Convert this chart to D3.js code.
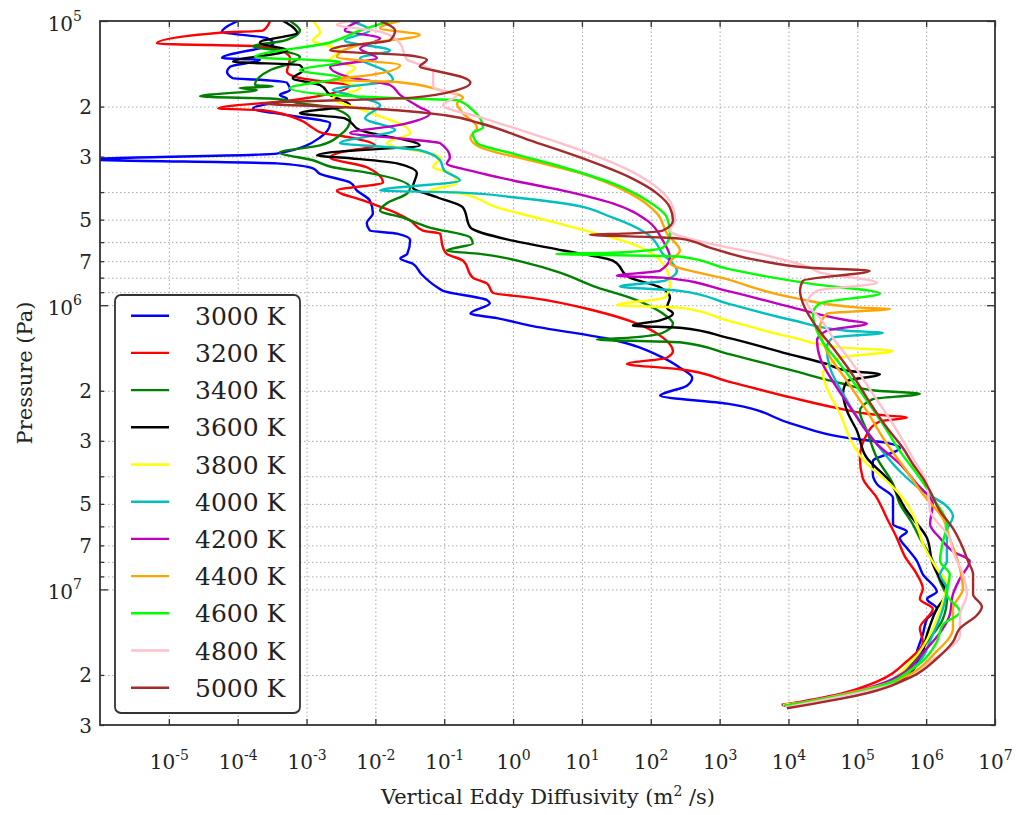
<!DOCTYPE html>
<html><head><meta charset="utf-8">
<script src="https://cdn.jsdelivr.net/npm/d3@7"></script>
<style>body{margin:0;background:#fff;} svg{display:block;}</style>
</head><body>
<svg id="chart" width="1016" height="815"></svg>
<script>
// ---------- DATA: [pressure (Pa), Kzz (m^2/s)] ----------
const temps = [3000, 3200, 3400, 3600, 3800, 4000, 4200, 4400, 4600, 4800, 5000];
const colors = ["#0000ff","#ff0000","#008000","#000000","#ffff00","#00bfbf","#bf00bf","#ffa500","#00ff00","#ffc0cb","#a52a2a"];

const s3000 = [[1.0e5,1.0e-4],[1.06e5,6.5e-5],[1.09e5,5.9e-5],[1.15e5,2.7e-4],[1.2e5,3.3e-4],[1.35e5,5.9e-5],[1.37e5,2.1e-4],[1.45e5,7.7e-5],[1.51e5,7.0e-5],[1.59e5,8.5e-5],[1.61e5,2.1e-4],[1.65e5,5.2e-4],[1.75e5,5.75e-4],[1.82e5,4.1e-4],[1.88e5,5.2e-4],[2.03e5,1.67e-4],[2.15e5,5.75e-4],[2.29e5,2.2e-3],[2.57e5,1.57e-3],[2.93e5,3.7e-4],[3.07e5,7e-7],[3.17e5,3.7e-4],[3.3e5,1.24e-3],[3.45e5,1.57e-3],[3.7e5,4.3e-3],[3.95e5,5.4e-3],[4.28e5,8.3e-3],[4.75e5,9.2e-3],[5.15e5,7.5e-3],[5.46e5,8.3e-3],[5.6e5,2.06e-2],[5.9e5,3.2e-2],[6.6e5,2.9e-2],[6.85e5,2.3e-2],[7.15e5,3.5e-2],[7.75e5,4.6e-2],[8.65e5,7.9e-2],[8.9e5,9.6e-2],[9.6e5,4.2e-1],[9.85e5,4.6e-1],[1.07e6,2.4e-1],[1.11e6,5.8e-1],[1.18e6,1.76],[1.31e6,2.31e1],[1.53e6,1.5e2],[1.66e6,2.65e2],[1.8e6,4.0e2],[1.92e6,3.35e2],[2.05e6,1.5e2],[2.08e6,1.36e2],[2.22e6,1.28e3],[2.62e6,1.16e4],[2.93e6,7.1e4],[3.05e6,2.7e5],[3.18e6,4.15e5],[3.54e6,1.68e5],[3.93e6,1.68e5],[4.26e6,1.93e5],[4.77e6,3.3e5],[5.9e6,3.3e5],[6.25e6,5.25e5],[6.6e6,4.15e5],[7.15e6,5.25e5],[7.95e6,7.35e5],[8.85e6,8.95e5],[1.02e7,1.43e6],[1.08e7,1.03e6],[1.17e7,1.43e6],[1.27e7,1.03e6],[1.44e7,8.95e5],[1.61e7,7.6e5],[1.84e7,6.4e5],[2.14e7,3.3e5],[2.33e7,1.09e5],[2.55e7,8.0e3]];

const s3200 = [[1.0e5,2.95e-4],[1.08e5,2.33e-4],[1.10e5,5.5e-5],[1.2e5,6.7e-6],[1.23e5,2.66e-4],[1.35e5,5.75e-4],[1.51e5,5.2e-4],[1.58e5,7.3e-4],[1.65e5,2.4e-3],[1.68e5,4.3e-3],[1.9e5,6.3e-4],[2.03e5,5.2e-5],[2.06e5,2.33e-4],[2.23e5,8.0e-4],[2.38e5,1.24e-3],[2.48e5,1.73e-3],[2.57e5,4.3e-3],[2.74e5,9.8e-3],[2.9e5,3.06e-3],[3.02e5,2.2e-3],[3.27e5,7.5e-3],[3.7e5,1.29e-2],[3.95e5,2.77e-3],[4.28e5,6.6e-3],[4.75e5,2.06e-2],[5.03e5,3.2e-2],[5.46e5,4.9e-2],[5.6e5,8.7e-2],[6.27e5,9.6e-2],[6.6e5,1.09e-1],[6.97e5,1.87e-1],[8.0e5,2.6e-1],[8.4e5,4.2e-1],[9.05e5,5.1e-1],[9.4e5,1.76],[1.05e6,1.65e1],[1.16e6,6.3e1],[1.3e6,1.5e2],[1.45e6,2.1e2],[1.53e6,1.72e2],[1.61e6,4.5e1],[1.68e6,2.65e2],[1.85e6,1.28e3],[2.12e6,1.16e4],[2.3e6,5.05e4],[2.41e6,1.38e5],[2.49e6,5.25e5],[2.56e6,2.13e5],[2.84e6,1.38e5],[3.45e6,1.09e5],[4.06e6,1.2e5],[4.77e6,1.93e5],[5.63e6,2.7e5],[6.6e6,3.76e5],[7.65e6,4.9e5],[8.85e6,7.35e5],[9.95e6,8.95e5],[1.08e7,8.1e5],[1.17e7,1.25e6],[1.37e7,8.1e5],[1.53e7,8.95e5],[1.79e7,5.25e5],[2.11e7,1.93e5],[2.33e7,5.6e4],[2.55e7,8.0e3]];

const s3400 = [[1.0e5,5.75e-4],[1.08e5,8.0e-4],[1.17e5,4.9e-4],[1.23e5,1.67e-4],[1.27e5,4.1e-4],[1.34e5,8.0e-4],[1.41e5,5.75e-4],[1.49e5,2.95e-4],[1.68e5,1.78e-4],[1.7e5,3.25e-4],[1.72e5,1.08e-4],[1.75e5,1.9e-4],[1.84e5,2.83e-5],[1.88e5,3.7e-4],[1.95e5,8.0e-4],[2.01e5,2.2e-3],[2.23e5,4.3e-3],[2.52e5,3.06e-3],[2.74e5,1.57e-3],[2.9e5,4.1e-4],[3.09e5,1.24e-3],[3.27e5,2.4e-3],[3.43e5,8.3e-3],[3.85e5,3.2e-2],[4.04e5,2.9e-2],[4.38e5,1.47e-2],[4.64e5,1.17e-2],[4.92e5,2.5e-2],[5.33e5,6.2e-2],[5.78e5,2.4e-1],[6.07e5,2.6e-1],[6.42e5,1.09e-1],[6.6e5,3.3e-1],[7.15e5,1.76],[7.68e5,4.8],[8.65e5,1.65e1],[9.4e5,4.98e1],[1.07e6,1.5e2],[1.16e6,2.1e2],[1.25e6,1.5e2],[1.3e6,4.98e1],[1.32e6,1.65e1],[1.35e6,2.65e2],[1.48e6,1.28e3],[1.7e6,1.16e4],[1.89e6,6.2e4],[2.0e6,1.93e5],[2.05e6,8.1e5],[2.14e6,1.68e5],[2.36e6,1.09e5],[2.77e6,1.38e5],[3.45e6,1.93e5],[4.26e6,3.3e5],[5.0e6,4.15e5],[5.9e6,6.4e5],[6.6e6,8.1e5],[7.95e6,1.25e6],[9.37e6,1.59e6],[1.08e7,2.0e6],[1.27e7,1.75e6],[1.53e7,1.03e6],[1.95e7,4.6e5],[2.33e7,1.09e5],[2.55e7,8.3e3]];

const s3600 = [[1.0e5,4.55e-4],[1.05e5,6.3e-4],[1.1e5,7.3e-4],[1.19e5,2.1e-4],[1.27e5,5.2e-4],[1.39e5,8.55e-5],[1.43e5,8.0e-4],[1.49e5,8.9e-4],[1.59e5,6.3e-4],[1.68e5,1.57e-3],[1.82e5,2.2e-3],[1.98e5,4.3e-3],[2.11e5,8.0e-4],[2.2e5,3.6e-3],[2.42e5,6.0e-3],[2.74e5,4.4e-2],[2.9e5,2.2e-3],[2.97e5,1.42e-3],[3.04e5,4.3e-3],[3.17e5,2.06e-2],[3.43e5,4.0e-2],[3.85e5,3.5e-2],[4.17e5,7.9e-2],[4.53e5,1.87e-1],[5.33e5,2.4e-1],[5.93e5,1.0],[6.42e5,5.3],[6.97e5,2.8e1],[8.0e5,4.98e1],[8.65e5,1.36e2],[9.4e5,1.9e2],[1.02e6,1.72e2],[1.07e6,2.1e2],[1.13e6,1.36e2],[1.18e6,5.5e1],[1.2e6,2.65e2],[1.3e6,1.28e3],[1.48e6,9.5e3],[1.61e6,3.6e4],[1.7e6,7.1e4],[1.75e6,2.13e5],[1.85e6,7.1e4],[2.05e6,6.2e4],[2.36e6,7.1e4],[2.77e6,9.9e4],[3.45e6,1.38e5],[4.06e6,2.7e5],[5.3e6,5.25e5],[6.6e6,1.03e6],[8.15e6,1.25e6],[9.6e6,1.75e6],[1.02e7,2.0e6],[1.17e7,1.43e6],[1.44e7,1.03e6],[1.75e7,8.1e5],[2.06e7,4.6e5],[2.33e7,1.09e5],[2.57e7,8.5e3]];

const s3800 = [[1.0e5,1.24e-3],[1.1e5,1.57e-3],[1.17e5,1.24e-3],[1.27e5,3.06e-3],[1.37e5,2.2e-3],[1.46e5,5.05e-3],[1.61e5,3.06e-3],[1.72e5,6.0e-3],[1.87e5,2.4e-3],[2.06e5,6.6e-3],[2.38e5,2.9e-2],[2.48e5,3.2e-2],[2.69e5,1.47e-2],[3.02e5,8.7e-2],[3.27e5,6.9e-2],[3.43e5,1.21e-1],[3.73e5,1.53e-1],[3.95e5,6.2e-2],[4.04e5,1.69e-1],[4.53e5,5.8e-1],[5.03e5,3.1],[5.6e5,1.65e1],[5.93e5,3.94e1],[6.42e5,8.8e1],[7.15e5,1.5e2],[8.4e5,1.9e2],[9.4e5,1.61e2],[1.0e6,3.22e1],[1.02e6,2.65e2],[1.13e6,1.28e3],[1.3e6,1.16e4],[1.41e6,6.2e4],[1.45e6,3.3e5],[1.53e6,5.6e4],[1.75e6,3.17e4],[1.95e6,3.6e4],[2.41e6,5.6e4],[3.08e6,8.6e4],[3.62e6,1.38e5],[4.26e6,3.0e5],[5.0e6,5.25e5],[5.9e6,7.35e5],[6.9e6,8.95e5],[8.45e6,1.43e6],[9.6e6,2.0e6],[1.1e7,1.75e6],[1.37e7,1.25e6],[1.77e7,6.4e5],[2.29e7,1.52e5],[2.55e7,8.3e3]];

const s4000 = [[1.0e5,4.3e-3],[1.08e5,8.3e-3],[1.17e5,3.6e-3],[1.27e5,1.63e-2],[1.35e5,6.0e-3],[1.51e5,1.47e-2],[1.61e5,1.8e-2],[1.75e5,2.4e-3],[1.82e5,4.3e-3],[1.98e5,1.17e-2],[2.2e5,7.1e-3],[2.42e5,1.93e-2],[2.69e5,3.06e-3],[2.78e5,1.63e-2],[2.85e5,4.4e-2],[3.09e5,8.7e-2],[3.36e5,1.0e-1],[3.64e5,1.69e-1],[3.95e5,1.17e-2],[4.01e5,1.53e-1],[4.17e5,1.0],[4.38e5,5.3],[4.92e5,2.8e1],[5.6e5,8.8e1],[6.6e5,1.5e2],[7.57e5,2.4e2],[8.2e5,1.61e2],[8.6e5,3.56e1],[8.9e5,2.65e2],[9.85e5,1.28e3],[1.13e6,1.16e4],[1.23e6,7.1e4],[1.25e6,2.35e5],[1.3e6,4.4e4],[1.41e6,3.6e4],[1.66e6,4.0e4],[2.05e6,6.2e4],[2.56e6,1.09e5],[3.18e6,2.13e5],[3.84e6,4.15e5],[4.51e6,8.95e5],[5.1e6,2.0e6],[5.53e6,2.45e6],[6.25e6,2.0e6],[7.95e6,2.0e6],[8.85e6,1.59e6],[9.95e6,2.0e6],[1.17e7,1.75e6],[1.44e7,1.25e6],[1.9e7,6.4e5],[2.29e7,1.52e5],[2.57e7,8.8e3]];

const s4200 = [[1.0e5,6.0e-3],[1.08e5,3.6e-3],[1.15e5,1.17e-2],[1.25e5,6.0e-3],[1.35e5,1.05e-2],[1.45e5,2.2e-3],[1.58e5,4.3e-3],[1.68e5,1.63e-2],[1.82e5,2.28e-2],[2.01e5,4.4e-2],[2.11e5,6.2e-2],[2.33e5,2.06e-2],[2.48e5,4.3e-3],[2.59e5,2.28e-2],[2.69e5,8.7e-2],[3.02e5,1.21e-1],[3.17e5,1.09e-1],[3.36e5,2.4e-1],[3.64e5,1.0],[3.95e5,5.3],[4.38e5,2.8e1],[5.03e5,8.8e1],[5.93e5,1.5e2],[6.8e5,1.9e2],[7.57e5,1.36e2],[7.87e5,3.22e1],[8.0e5,1.5e2],[8.9e5,1.28e3],[1.02e6,1.16e4],[1.13e6,7.1e4],[1.16e6,1.38e5],[1.23e6,3.6e4],[1.33e6,2.6e4],[1.53e6,2.87e4],[1.95e6,5.05e4],[2.36e6,8.6e4],[3.08e6,1.93e5],[3.62e6,4.15e5],[4.26e6,7.35e5],[5.0e6,1.25e6],[5.9e6,1.14e6],[6.6e6,1.59e6],[7.35e6,2.45e6],[7.95e6,4.3e6],[9.15e6,3.1e6],[1.04e7,2.45e6],[1.23e7,2.2e6],[1.61e7,1.03e6],[2.11e7,2.7e5],[2.57e7,8.8e3]];

const s4400 = [[1.0e5,2.28e-2],[1.06e5,1.17e-2],[1.12e5,4.4e-2],[1.21e5,6.0e-3],[1.34e5,2.77e-3],[1.43e5,2.28e-2],[1.55e5,8.3e-3],[1.61e5,2.4e-3],[1.64e5,2.06e-2],[1.75e5,8.7e-2],[1.86e5,1.87e-1],[1.95e5,1.53e-1],[2.11e5,1.87e-1],[2.37e5,3.0e-1],[2.57e5,2.4e-1],[2.78e5,3.3e-1],[3.09e5,1.76],[3.43e5,9.4],[4.04e5,4.98e1],[4.75e5,1.23e2],[5.6e5,1.72e2],[6.42e5,2.65e2],[7.1e5,1.9e2],[8.1e5,1.28e3],[9.4e5,1.16e4],[1.02e6,1.09e5],[1.03e6,3.0e5],[1.07e6,3.6e4],[1.2e6,2.87e4],[1.45e6,3.6e4],[1.85e6,7.1e4],[2.36e6,1.38e5],[3.08e6,2.7e5],[3.84e6,5.25e5],[4.62e6,8.95e5],[5.63e6,1.75e6],[6.6e6,2.2e6],[8.45e6,3.1e6],[9.95e6,3.42e6],[1.17e7,2.45e6],[1.37e7,2.45e6],[1.65e7,1.43e6],[2.11e7,3.3e5],[2.57e7,8.8e3]];

const s4600 = [[1.0e5,1.63e-2],[1.08e5,6.0e-3],[1.19e5,2.2e-3],[1.34e5,1.78e-4],[1.39e5,3.06e-3],[1.49e5,8.0e-4],[1.58e5,3.06e-3],[1.72e5,5.75e-4],[1.82e5,2.2e-3],[1.87e5,2.28e-2],[1.9e5,1.53e-1],[2.06e5,2.6e-1],[2.37e5,3.65e-1],[2.48e5,2.6e-1],[2.69e5,3.0e-1],[2.93e5,1.0],[3.27e5,5.3],[3.73e5,2.8e1],[4.28e5,8.8e1],[4.92e5,1.72e2],[5.6e5,1.9e2],[6.27e5,1.5e2],[6.54e5,2.8e1],[6.6e5,4.2],[6.74e5,2.65e2],[7.44e5,1.28e3],[8.4e5,2.05e4],[9.1e5,2.13e5],[9.85e5,2.87e4],[1.07e6,2.27e4],[1.3e6,2.87e4],[1.61e6,5.6e4],[2.0e6,1.09e5],[2.62e6,2.35e5],[3.26e6,4.15e5],[4.06e6,8.1e5],[4.77e6,1.25e6],[5.9e6,2.0e6],[6.8e6,1.75e6],[7.95e6,1.59e6],[8.85e6,2.2e6],[1.04e7,2.0e6],[1.2e7,3.1e6],[1.33e7,1.75e6],[1.53e7,1.43e6],[1.9e7,6.4e5],[2.23e7,1.68e5],[2.57e7,8.8e3]];

const s4800 = [[1.0e5,4.3e-3],[1.03e5,2.77e-3],[1.09e5,1.17e-2],[1.2e5,2.28e-2],[1.37e5,2.9e-2],[1.41e5,4.0e-2],[1.51e5,6.9e-2],[1.71e5,6.9e-2],[1.82e5,1.53e-1],[1.98e5,9.6e-2],[2.18e5,3.3e-1],[2.48e5,1.76],[2.85e5,9.7],[3.36e5,4.98e1],[3.85e5,1.23e2],[4.53e5,2.1e2],[5.03e5,2.25e2],[5.46e5,1.9e2],[6.07e5,7.2e2],[6.6e5,3.85e3],[7.38e5,2.05e4],[7.68e5,2.87e4],[8.33e5,1.93e5],[8.9e5,2.6e4],[9.85e5,1.86e4],[1.11e6,2.87e4],[1.3e6,4.4e4],[1.61e6,8.6e4],[2.05e6,1.68e5],[2.62e6,3.3e5],[3.45e6,6.4e5],[4.26e6,1.03e6],[5.3e6,1.14e6],[6.6e6,2.2e6],[7.35e6,2.45e6],[8.85e6,3.42e6],[1.04e7,3.9e6],[1.23e7,3.1e6],[1.44e7,3.1e6],[1.77e7,1.25e6],[2.16e7,3.3e5],[2.6e7,9.0e3]];

const s5000 = [[1.0e5,1.17e-2],[1.08e5,1.93e-2],[1.17e5,1.63e-2],[1.23e5,3.06e-3],[1.27e5,2.2e-3],[1.32e5,2.9e-2],[1.37e5,5.6e-2],[1.45e5,4.4e-2],[1.49e5,6.9e-2],[1.58e5,1.87e-1],[1.65e5,2.4e-1],[1.75e5,1.53e-1],[1.86e5,3.5e-2],[1.95e5,2.33e-4],[2.0e5,2.2e-3],[2.06e5,2.06e-2],[2.15e5,1.09e-1],[2.29e5,3.3e-1],[2.63e5,1.76],[3.02e5,9.4],[3.55e5,4.98e1],[4.04e5,1.23e2],[4.53e5,1.9e2],[5.03e5,2.1e2],[5.46e5,1.5e2],[5.6e5,3.94e1],[5.65e5,1.31e1],[5.78e5,1.5e2],[5.83e5,2.65e2],[6.27e5,7.2e2],[6.97e5,3.85e3],[7.38e5,2.05e4],[7.57e5,1.52e5],[8.2e5,1.62e4],[8.9e5,1.47e4],[9.85e5,1.62e4],[1.2e6,2.6e4],[1.41e6,4.4e4],[1.7e6,7.8e4],[2.12e6,1.38e5],[2.7e6,2.7e5],[3.18e6,4.6e5],[3.62e6,6.4e5],[4.06e6,8.95e5],[4.51e6,1.14e6],[5.3e6,1.59e6],[6.1e6,2.45e6],[7.15e6,3.42e6],[7.95e6,4.05e6],[8.85e6,4.8e6],[1.04e7,4.8e6],[1.15e7,6.45e6],[1.23e7,5.5e6],[1.37e7,3.1e6],[1.53e7,2.45e6],[1.75e7,1.43e6],[2.02e7,6.4e5],[2.35e7,1.09e5],[2.62e7,9.5e3]];

const series = [s3000, s3200, s3400, s3600, s3800, s4000, s4200, s4400, s4600, s4800, s5000];

// ticks / labels
const xTickExps = [-5,-4,-3,-2,-1,0,1,2,3,4,5,6,7];
const yMajorExps = [5,6,7];
const yMinorMults = [2,3,4,5,6,7,8,9];
const yLabeledMults = [2,3,5,7];
const xTitle = "Vertical Eddy Diffusivity (m";
const yTitle = "Pressure (Pa)";

// ---------- CHART ----------
const W = 1016, H = 815;
const L = 100, R = 995, T = 21, B = 725;
const FONT = "'DejaVu Serif', serif";
const x = d3.scaleLog().domain([1e-6, 1e7]).range([L, R]);
const y = d3.scaleLog().domain([1e5, 3e7]).range([T, B]);

const svg = d3.select("#chart");
svg.append("rect").attr("width", W).attr("height", H).attr("fill", "#fff");
svg.append("defs").append("clipPath").attr("id", "clip")
  .append("rect").attr("x", L).attr("y", T).attr("width", R - L).attr("height", B - T);

const xTickVals = xTickExps.map(e => Math.pow(10, e));
const yAll = [];
yMajorExps.forEach(e => {
  const base = Math.pow(10, e);
  yAll.push({v: base, major: true, m: 1, e: e});
  yMinorMults.forEach(m => { if (m * base <= 3e7 + 1) yAll.push({v: m * base, major: false, m: m, e: e}); });
});
const yTickVals = yAll.map(d => d.v);

// grid
const gridX = svg.append("g").attr("transform", `translate(0,${B})`)
  .call(d3.axisBottom(x).tickValues(xTickVals.filter(v => v < 1e7)).tickSize(-(B - T)).tickFormat(""));
const gridY = svg.append("g").attr("transform", `translate(${L},0)`)
  .call(d3.axisLeft(y).tickValues(yTickVals.filter(v => v > 1e5 && v < 3e7)).tickSize(-(R - L)).tickFormat(""));
[gridX, gridY].forEach(g => {
  g.select(".domain").remove();
  g.selectAll(".tick text").remove();
  g.selectAll(".tick line").attr("stroke", "#a8a8a8").attr("stroke-width", 1).attr("stroke-dasharray", "1.5,2.5");
});

// lines
const line = d3.line().x(d => x(d[1])).y(d => y(d[0])).curve(d3.curveMonotoneY);
const gLines = svg.append("g").attr("clip-path", "url(#clip)");
series.forEach((s, i) => {
  gLines.append("path").datum(s).attr("d", line)
    .attr("fill", "none").attr("stroke", colors[i]).attr("stroke-width", 2.4)
    .attr("stroke-linejoin", "round");
});

// frame
svg.append("rect").attr("x", L).attr("y", T).attr("width", R - L).attr("height", B - T)
  .attr("fill", "none").attr("stroke", "#333").attr("stroke-width", 1.8);

// x axis (bottom) ticks + labels
const gxB = svg.append("g").attr("transform", `translate(0,${B})`)
  .call(d3.axisBottom(x).tickValues(xTickVals).tickSizeOuter(0).tickFormat(""));
gxB.select(".domain").remove();
gxB.selectAll(".tick line").attr("y2", -6).attr("stroke", "#333").attr("stroke-width", 1.3);
gxB.selectAll(".tick text").remove();
gxB.selectAll(".tick").each(function(d, i) {
  const t = d3.select(this).append("text").attr("y", 44).attr("text-anchor", "middle")
    .attr("font-family", FONT).attr("font-size", 20).attr("fill", "#222");
  t.append("tspan").text("10");
  t.append("tspan").attr("dy", -9).attr("font-size", 14).text(String(xTickExps[i]));
});
// x axis (top) ticks
const gxT = svg.append("g").attr("transform", `translate(0,${T})`)
  .call(d3.axisTop(x).tickValues(xTickVals).tickSizeOuter(0).tickFormat(""));
gxT.select(".domain").remove();
gxT.selectAll(".tick text").remove();
gxT.selectAll(".tick line").attr("y2", 6).attr("stroke", "#333").attr("stroke-width", 1.3);

// y axis (left)
const gyL = svg.append("g").attr("transform", `translate(${L},0)`)
  .call(d3.axisLeft(y).tickValues(yTickVals).tickSizeOuter(0).tickFormat(""));
gyL.select(".domain").remove();
gyL.selectAll(".tick text").remove();
gyL.selectAll(".tick line").attr("x2", (d, i) => yAll[i].major ? 8 : 4).attr("stroke", "#333").attr("stroke-width", 1.3);
gyL.selectAll(".tick").each(function(d, i) {
  const info = yAll[i];
  const g = d3.select(this);
  if (info.major) {
    const t = g.append("text").attr("x", -18).attr("y", 9).attr("text-anchor", "end")
      .attr("font-family", FONT).attr("font-size", 20).attr("fill", "#222");
    t.append("tspan").text("10");
    t.append("tspan").attr("dy", -10).attr("font-size", 14).text(String(info.e));
  } else if (yLabeledMults.includes(info.m)) {
    g.append("text").attr("x", -8).attr("y", 7).attr("text-anchor", "end")
      .attr("font-family", FONT).attr("font-size", 20).attr("fill", "#222").text(String(info.m));
  }
});
// y axis (right) ticks
const gyR = svg.append("g").attr("transform", `translate(${R},0)`)
  .call(d3.axisRight(y).tickValues(yTickVals).tickSizeOuter(0).tickFormat(""));
gyR.select(".domain").remove();
gyR.selectAll(".tick text").remove();
gyR.selectAll(".tick line").attr("x2", (d, i) => yAll[i].major ? -8 : -4).attr("stroke", "#333").attr("stroke-width", 1.3);

// axis titles
const xt = svg.append("text").attr("x", 548).attr("y", 804).attr("text-anchor", "middle")
  .attr("font-family", FONT).attr("font-size", 21).attr("fill", "#222");
xt.append("tspan").text(xTitle);
xt.append("tspan").attr("dy", -8).attr("font-size", 14).text("2");
xt.append("tspan").attr("dy", 8).text(" /s)");

svg.append("text").attr("transform", "translate(32,373) rotate(-90)").attr("text-anchor", "middle")
  .attr("font-family", FONT).attr("font-size", 21).attr("fill", "#222").text(yTitle);

// legend
const lg = svg.append("g");
lg.append("rect").attr("x", 115).attr("y", 295).attr("width", 185).attr("height", 418)
  .attr("rx", 6).attr("fill", "#fff").attr("stroke", "#333").attr("stroke-width", 1.8);
temps.forEach((t, i) => {
  const cy = 315.7 + i * 37.2;
  lg.append("line").attr("x1", 131).attr("x2", 169).attr("y1", cy).attr("y2", cy)
    .attr("stroke", colors[i]).attr("stroke-width", 2.4);
  lg.append("text").attr("x", 195).attr("y", cy + 9).attr("font-family", FONT)
    .attr("font-size", 25).attr("fill", "#222").text(t + " K");
});
</script>
</body></html>
